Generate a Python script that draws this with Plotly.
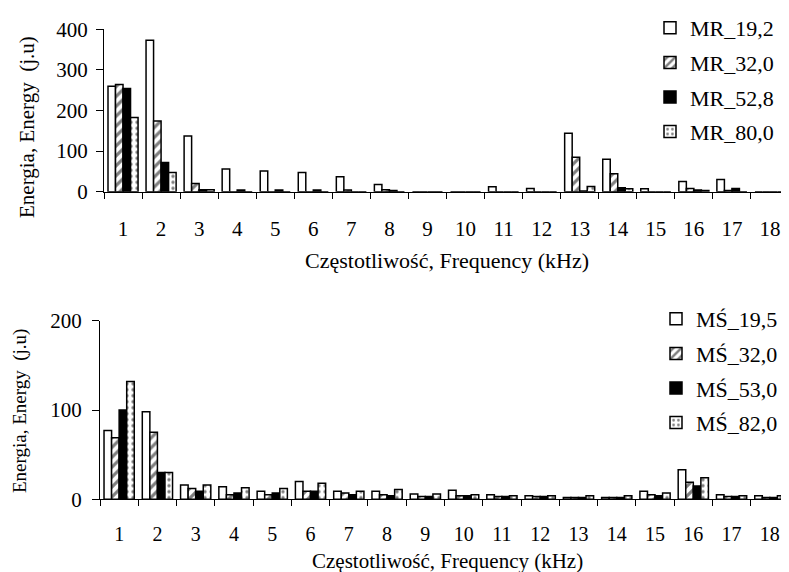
import plotly.graph_objects as go
from plotly.subplots import make_subplots

# ---- data ----
categories = ["1", "2", "3", "4", "5", "6", "7", "8", "9", "10",
              "11", "12", "13", "14", "15", "16", "17", "18"]

top_names = ["MR_19,2", "MR_32,0", "MR_52,8", "MR_80,0"]
mr_19_2 = [260, 373, 137, 56, 51, 47, 37, 18, 0, 0, 12, 8, 144, 80, 7, 25, 30, 0]
mr_32_0 = [264, 174, 20, 0, 0, 0, 4, 5, 0, 0, 0, 0, 85, 44, 0, 8, 3, 0]
mr_52_8 = [254, 72, 5, 4, 4, 4, 0, 3, 0, 0, 0, 0, 2, 10, 0, 4, 8, 0]
mr_80_0 = [183, 47, 5, 0, 0, 0, 0, 0, 0, 0, 0, 0, 13, 7, 0, 3, 0, 0]

bottom_names = ["MŚ_19,5", "MŚ_32,0", "MŚ_53,0", "MŚ_82,0"]
ms_19_5 = [77, 98, 16, 14, 9, 20, 9, 9, 6, 10, 5, 4, 2, 2, 9, 33, 5, 4]
ms_32_0 = [69, 75, 12, 5, 5, 9, 7, 5, 3, 4, 3, 3, 2, 2, 5, 19, 3, 2]
ms_53_0 = [100, 30, 9, 7, 7, 9, 5, 4, 3, 4, 3, 3, 2, 2, 4, 15, 3, 2]
ms_82_0 = [132, 30, 16, 13, 12, 18, 9, 11, 6, 5, 4, 4, 4, 4, 7, 24, 4, 4]

x_title = "Częstotliwość, Frequency (kHz)"
y_title = "Energia, Energy  (j.u)"

FONT = "Liberation Serif, Times New Roman, serif"

styles = [
    dict(color="white", pattern=None),
    dict(color="white", pattern=dict(shape="/", fgcolor="black", bgcolor="white", size=7, solidity=0.45)),
    dict(color="black", pattern=None),
    dict(color="white", pattern=dict(shape=".", fgcolor="black", bgcolor="white", size=6, solidity=0.25)),
]

fig = make_subplots(rows=2, cols=1)

def add_series(values_list, names, row, legend):
    for vals, name, st in zip(values_list, names, styles):
        marker = dict(color=st["color"], line=dict(color="black", width=1.5))
        if st["pattern"] is not None:
            marker["pattern"] = st["pattern"]
        fig.add_trace(go.Bar(x=categories, y=vals, name=name, marker=marker,
                             legend=legend, legendgroup=name),
                      row=row, col=1)

add_series([mr_19_2, mr_32_0, mr_52_8, mr_80_0], top_names, 1, "legend")
add_series([ms_19_5, ms_32_0, ms_53_0, ms_82_0], bottom_names, 2, "legend2")

# page body adds an 8px offset; figure is sized to fill the rest of the window
OFF = 8
W, H = 789 - OFF, 572 - OFF
def px_x(v): return (v - OFF) / W
def px_y(v): return 1 - (v - OFF) / H

xaxis_common = dict(type="category", tickson="boundaries", ticks="outside", ticklen=6,
                    tickcolor="black", showline=True, linecolor="black", linewidth=1,
                    showgrid=False, zeroline=False, automargin=False)
yaxis_common = dict(ticks="outside", ticklen=7, tickcolor="black", showline=True,
                    linecolor="black", linewidth=1, showgrid=False, zeroline=False,
                    automargin=False,
                    tickfont=dict(family=FONT, size=21, color="black"), dtick=100)

legend_common = dict(xanchor="left", yanchor="top", bgcolor="rgba(0,0,0,0)",
                     itemwidth=30, font=dict(family=FONT, size=22, color="black"))

fig.update_layout(
    width=W, height=H,
    margin=dict(l=0, r=0, t=0, b=0, autoexpand=False),
    paper_bgcolor="white", plot_bgcolor="white",
    barmode="group", bargap=0.21, bargroupgap=0,
    font=dict(family=FONT, size=20, color="black"),
    xaxis=dict(domain=[px_x(104), 1], ticklabelstandoff=18,
               tickfont=dict(family=FONT, size=21, color="black"), **xaxis_common),
    xaxis2=dict(domain=[px_x(100), 1], ticklabelstandoff=17,
                tickfont=dict(family=FONT, size=20, color="black"), **xaxis_common),
    yaxis=dict(domain=[px_y(191.7), px_y(29.3)], range=[0, 400], ticklabelstandoff=4, **yaxis_common),
    yaxis2=dict(domain=[px_y(499.3), px_y(320.7)], range=[0, 200], ticklabelstandoff=6, **yaxis_common),
    legend=dict(x=px_x(650), y=px_y(7), tracegroupgap=3, **legend_common),
    legend2=dict(x=px_x(656), y=px_y(298), tracegroupgap=3, **legend_common),
    showlegend=True,
)

annotations = [
    dict(text=x_title, x=px_x(447), y=px_y(260), xref="paper", yref="paper",
         xanchor="center", yanchor="middle", showarrow=False,
         font=dict(family=FONT, size=22, color="black")),
    dict(text=x_title, x=px_x(447), y=px_y(561), xref="paper", yref="paper",
         xanchor="center", yanchor="middle", showarrow=False,
         font=dict(family=FONT, size=21, color="black")),
    dict(text=y_title, x=px_x(27), y=px_y(127), xref="paper", yref="paper",
         xanchor="center", yanchor="middle", showarrow=False, textangle=-90,
         font=dict(family=FONT, size=21, color="black")),
    dict(text=y_title, x=px_x(20), y=px_y(411), xref="paper", yref="paper",
         xanchor="center", yanchor="middle", showarrow=False, textangle=-90,
         font=dict(family=FONT, size=19, color="black")),
]
fig.update_layout(annotations=annotations)

fig.write_html("out.html")
